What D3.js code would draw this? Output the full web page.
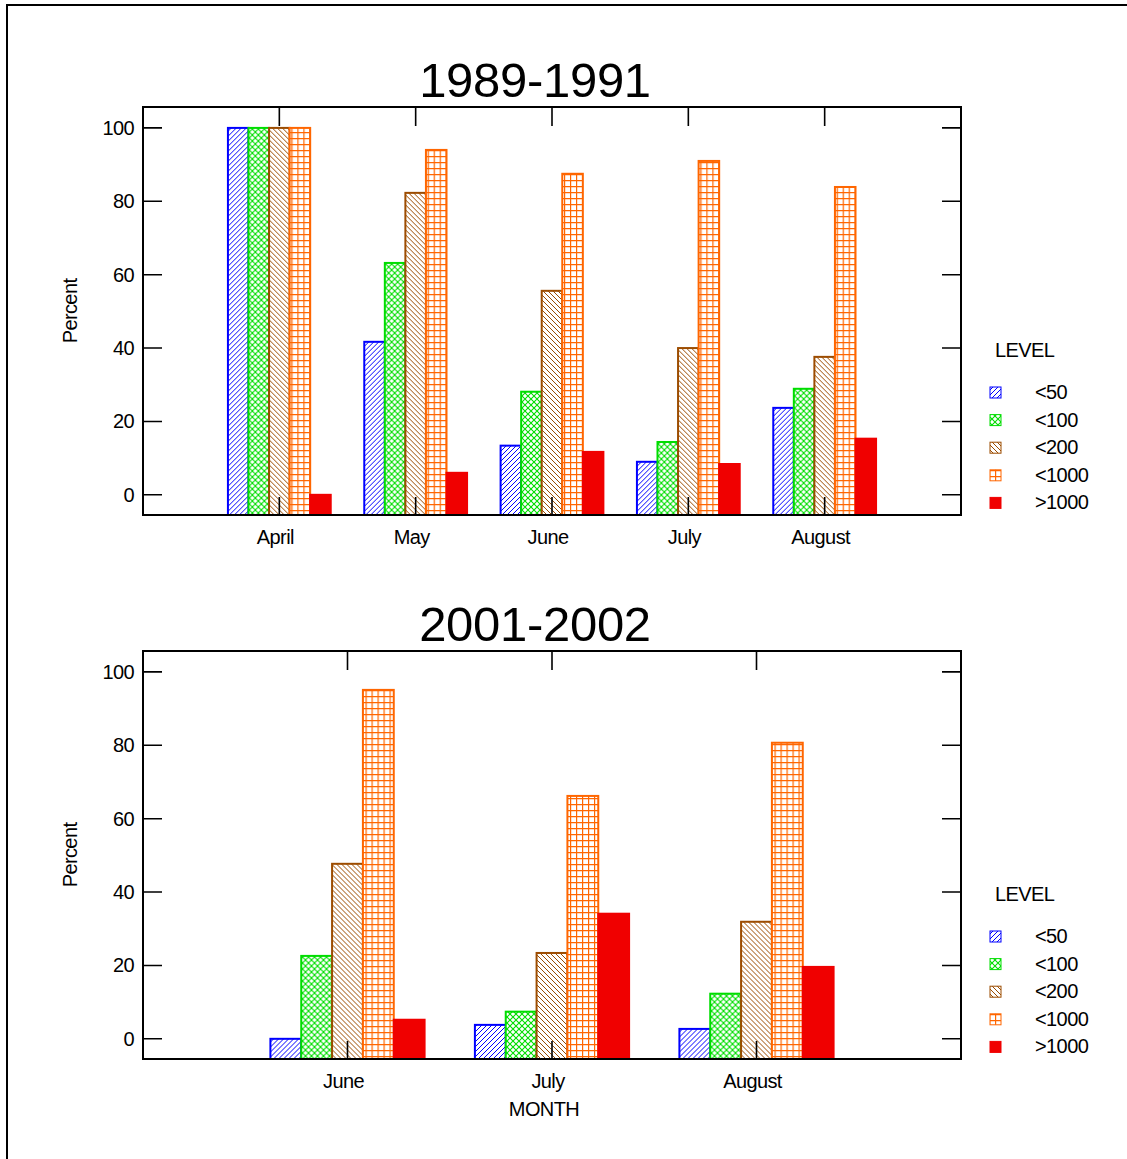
<!DOCTYPE html>
<html>
<head>
<meta charset="utf-8">
<script src="https://cdn.jsdelivr.net/npm/d3@7"></script>
<style>
  body { margin: 0; background: #fff; }
  text { font-family: "Liberation Sans", Arial, sans-serif; fill: #000; }
  .tick-label, .cat-label, .axis-title, .legend-text { font-size: 20px; letter-spacing: -0.6px; }
  .title { font-size: 49px; letter-spacing: -0.3px; }
</style>
</head>
<body>
<svg id="chart" width="1127" height="1159"></svg>
<script>
// Grouped hatched bar charts: percent by month and level
const levels = ["<50", "<100", "<200", "<1000", ">1000"];
const levelColors = ["#0000ff", "#00dd00", "#9c4c00", "#ff6600", "#f00000"];

const months1 = ["April", "May", "June", "July", "August"];
const values1 = [
  [100, 100, 100, 100, 0],
  [41.7, 63.2, 82.3, 94.0, 6.0],
  [13.4, 28.1, 55.6, 87.5, 11.7],
  [9.0, 14.4, 40.0, 91.0, 8.4],
  [23.7, 28.9, 37.6, 83.9, 15.3]
];

const months2 = ["June", "July", "August"];
const values2 = [
  [0, 22.6, 47.7, 95.1, 5.2],
  [3.8, 7.4, 23.4, 66.2, 34.1],
  [2.7, 12.3, 31.9, 80.7, 19.6]
];

const yTicks = [0, 20, 40, 60, 80, 100];

(function() {
  const svg = d3.select("#chart");

  // outer frame
  svg.append("rect")
    .attr("x", 7).attr("y", 5)
    .attr("width", 1140).attr("height", 1180)
    .attr("fill", "none").attr("stroke", "#000").attr("stroke-width", 2);

  // hatch patterns
  const defs = svg.append("defs");
  function pat(id, size, color, draw) {
    const p = defs.append("pattern")
      .attr("id", id)
      .attr("patternUnits", "userSpaceOnUse")
      .attr("width", size).attr("height", size);
    p.append("rect").attr("width", size).attr("height", size).attr("fill", "#fff");
    draw(p, color, size);
  }
  pat("p0", 5, levelColors[0], (p, c, s) => {
    p.append("path").attr("d", `M0,${s} L${s},0 M-1,1 L1,-1 M${s-1},${s+1} L${s+1},${s-1}`)
      .attr("stroke", c).attr("stroke-width", 1);
  });
  pat("p1", 6, levelColors[1], (p, c, s) => {
    p.append("path").attr("d", `M0,${s} L${s},0 M0,0 L${s},${s}`)
      .attr("stroke", c).attr("stroke-width", 1.1);
  });
  pat("p2", 5, levelColors[2], (p, c, s) => {
    p.append("path").attr("d", `M0,0 L${s},${s} M${s-1},-1 L${s+1},1 M-1,${s-1} L1,${s+1}`)
      .attr("stroke", c).attr("stroke-width", 1);
  });
  pat("p3", 6, levelColors[3], (p, c, s) => {
    p.append("path").attr("d", `M0,0.5 L${s},0.5 M0.5,0 L0.5,${s}`)
      .attr("stroke", c).attr("stroke-width", 1.4);
  });
  const fills = ["url(#p0)", "url(#p1)", "url(#p2)", "url(#p3)", levelColors[4]];

  function panel(cfg) {
    const { months, values, top, title } = cfg;
    const left = 143, right = 961, bottom = top + 408;
    const g = svg.append("g");

    const x = d3.scalePoint().domain(months).range([left, right]).padding(1);
    const step = x.step();
    const xi = d3.scaleBand().domain(levels).range([-0.377 * step, 0.377 * step]);
    const y = d3.scaleLinear().domain([-5.5, 105.7]).range([bottom, top]);

    // title
    g.append("text").attr("class", "title")
      .attr("x", 535).attr("y", top - 10)
      .attr("text-anchor", "middle")
      .text(title);

    // bars
    months.forEach((m, i) => {
      const grp = g.append("g").attr("transform", `translate(${x(m)},0)`);
      grp.selectAll("rect")
        .data(levels.map((l, k) => ({ l, k, v: values[i][k] })))
        .join("rect")
        .attr("x", d => xi(d.l))
        .attr("y", d => y(d.v))
        .attr("width", xi.bandwidth())
        .attr("height", d => y(-5.5) - y(d.v))
        .attr("fill", d => fills[d.k])
        .attr("stroke", d => levelColors[d.k])
        .attr("stroke-width", 2);
    });

    // frame
    g.append("rect")
      .attr("x", left).attr("y", top)
      .attr("width", right - left).attr("height", bottom - top)
      .attr("fill", "none").attr("stroke", "#000").attr("stroke-width", 2);

    // y ticks (inside, both sides)
    g.selectAll(".yt").data(yTicks).join("path")
      .attr("d", d => `M${left},${y(d)} h19 M${right},${y(d)} h-19`)
      .attr("stroke", "#000").attr("stroke-width", 1.6);
    g.selectAll(".tick-label").data(yTicks).join("text")
      .attr("class", "tick-label")
      .attr("x", 134).attr("y", d => y(d) + 7)
      .attr("text-anchor", "end")
      .text(d => d);

    // x ticks (inside, top and bottom)
    g.selectAll(".xt").data(months).join("path")
      .attr("d", d => `M${x(d)},${top} v19 M${x(d)},${bottom} v-18`)
      .attr("stroke", "#000").attr("stroke-width", 1.6);
    g.selectAll(".cat-label").data(months).join("text")
      .attr("class", "cat-label")
      .attr("x", d => x(d) - 4).attr("y", bottom + 29)
      .attr("text-anchor", "middle")
      .text(d => d);

    // y axis title
    g.append("text").attr("class", "axis-title")
      .attr("transform", `translate(77, ${top + 204}) rotate(-90)`)
      .attr("text-anchor", "middle")
      .text("Percent");

    // legend
    const lg = g.append("g").attr("transform", `translate(995, ${top + 243})`);
    lg.append("text").attr("class", "legend-text").attr("x", 0).attr("y", 7).text("LEVEL");
    levels.forEach((l, k) => {
      const yy = 42 + k * 27.6;
      lg.append("rect")
        .attr("x", -5).attr("y", yy - 5)
        .attr("width", 11).attr("height", 11)
        .attr("fill", fills[k])
        .attr("stroke", levelColors[k]).attr("stroke-width", 1);
      lg.append("text").attr("class", "legend-text")
        .attr("x", 40).attr("y", yy + 7).text(l);
    });
  }

  panel({ months: months1, values: values1, top: 107, title: "1989-1991" });
  panel({ months: months2, values: values2, top: 651, title: "2001-2002" });

  svg.append("text").attr("class", "axis-title")
    .attr("x", 544).attr("y", 1116)
    .attr("text-anchor", "middle")
    .text("MONTH");
})();
</script>
</body>
</html>
